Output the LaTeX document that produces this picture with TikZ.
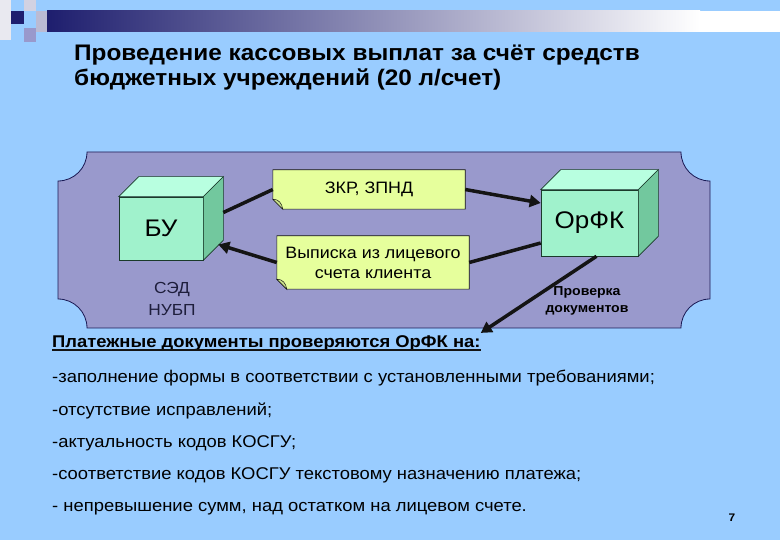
\documentclass[tikz,border=0pt]{standalone}
\usepackage{fontspec}
\setmainfont[FakeStretch=1.083]{Liberation Sans}
\usetikzlibrary{arrows.meta,backgrounds}
\definecolor{skyback}{HTML}{99CCFF}
\definecolor{navy}{HTML}{1E1E6E}
\definecolor{panelfill}{HTML}{9999CC}
\definecolor{panelline}{HTML}{1A1A55}
\definecolor{cubefront}{HTML}{A0F2CC}
\definecolor{cubetop}{HTML}{B8FFE0}
\definecolor{cubeside}{HTML}{72C89E}
\definecolor{cubeline}{HTML}{1A3A2A}
\definecolor{notefill}{HTML}{E6FF9C}
\definecolor{curlfill}{HTML}{C8E088}
\definecolor{ink}{HTML}{141414}
\definecolor{labelink}{HTML}{1E1E3C}

\begin{document}
\begin{tikzpicture}[
  x=1pt, y=-1pt,
  % Node styles
  cube/.style={
    draw=cubeline,
    fill=cubefront,
    line width=0.6pt,
    minimum height=63pt,
    inner sep=0pt,
    font=\fontsize{24}{28}\selectfont,
  },
  cube top/.style={draw=cubeline, fill=cubetop, line width=0.6pt},
  cube side/.style={draw=cubeline, fill=cubeside, line width=0.6pt},
  note/.style={
    minimum width=192pt,
    inner sep=0pt,
    align=center,
    font=\fontsize{16.5}{20}\selectfont,
  },
  note shape/.style={draw=ink, fill=notefill, line width=0.6pt},
  curl/.style={draw=ink, fill=curlfill, line width=0.5pt},
  listline/.style={
    anchor=base west,
    inner sep=0pt,
    font=\fontsize{17}{20}\selectfont,
  },
  % Edge styles
  link/.style={draw=ink, line width=3.5pt},
  arrowed/.style={-{Triangle[length=11pt,width=12pt]}},
]

  % Slide background, header strip and the plaque panel
  \begin{scope}[on background layer]
    \fill[skyback] (0,0) rectangle (780,540);
    \fill[white!90!navy] (0,0) rectangle (11,40);
    \fill[navy] (11,11) rectangle (24,24);
    \fill[white!80!navy] (24,0) rectangle (36,11);
    \fill[white!70!navy] (36,11) rectangle (47,32);
    \fill[panelfill] (24,28) rectangle (36,42);
    \shade[left color=navy, right color=white] (47,11) rectangle (700,32);
    \fill[white] (700,11) rectangle (780,32);
    \filldraw[fill=panelfill, draw=panelline, line width=0.8pt]
      (87,152) -- (681,152) arc[start angle=180, end angle=90, radius=29]
      -- (710,299) arc[start angle=270, end angle=180, radius=29]
      -- (87,328) arc[start angle=360, end angle=270, radius=29]
      -- (58,181) arc[start angle=90, end angle=0, radius=29] -- cycle;
  \end{scope}

  % Title
  \node[anchor=base west, inner sep=0pt, font=\bfseries\fontsize{22.5}{26}\selectfont]
    (title1) at (74,61) {Проведение кассовых выплат за счёт средств};
  \node[anchor=base west, inner sep=0pt, font=\bfseries\fontsize{22.5}{26}\selectfont]
    (title2) at (74,86) {бюджетных учреждений (20 л/счет)};

  % Cubes
  \node[cube, minimum width=84pt] (bu) at (161,228.5) {БУ};
  \node[cube, minimum width=97pt, minimum height=66pt] (orfk) at (589.5,223) {ОрФК};
  \foreach \n in {bu, orfk} {
    \filldraw[cube top] (\n.north west) -- ++(20,-20)
      -- ([shift={(20pt,20pt)}]\n.north east) -- (\n.north east) -- cycle;
    \filldraw[cube side] (\n.north east) -- ++(20,-20)
      -- ([shift={(20pt,20pt)}]\n.south east) -- (\n.south east) -- cycle;
  }

  % Notes
  \node[note, minimum height=39pt] (zkr) at (369,189.5) {ЗКР, ЗПНД};
  \node[note, minimum height=53pt] (vyp) at (373,262.5) {Выписка из лицевого\\счета клиента};
  \begin{scope}[on background layer]
    \foreach \n in {zkr, vyp} {
      \filldraw[note shape] (\n.north west) -- (\n.north east) -- (\n.south east)
        -- ([xshift=10pt]\n.south west) -- ([yshift=10pt]\n.south west) -- cycle;
      \filldraw[curl] ([yshift=10pt]\n.south west) .. controls +(6,0) and +(-1,-6)
        .. ([xshift=10pt]\n.south west) -- cycle;
    }
  \end{scope}

  % Labels
  \node[align=center, text=labelink, font=\fontsize{16}{22}\selectfont] (sed) at (172,299) {СЭД\\НУБП};
  \node[align=center, font=\bfseries\fontsize{13}{17}\selectfont] (check) at (587,301) {Проверка\\документов};

  % Checks list
  \node[listline, font=\bfseries\fontsize{17}{20}\selectfont] (head) at (52,348)
    {Платежные документы проверяются ОрФК на:};
  \draw[ink, line width=1.2pt] ([yshift=-2pt]head.base west) -- ([yshift=-2pt]head.base east);
  \foreach \txt [count=\i] in {
    {-заполнение формы в соответствии с установленными требованиями;},
    {-отсутствие исправлений;},
    {-актуальность кодов КОСГУ;},
    {-соответствие кодов КОСГУ текстовому назначению платежа;},
    {- непревышение сумм, над остатком на лицевом счете.}} {
    \node[listline] (line-\i) at (52,383+32.2*\i-32.2) {\txt};
  }
  \node[anchor=base, font=\bfseries\fontsize{11}{13}\selectfont] (page) at (732,521) {7};

  % Edges
  \draw[link] ([shift={(20pt,16pt)}]bu.east) -- (zkr.west);
  \draw[link, arrowed] (zkr.east) -- ([yshift=20pt]orfk.west);
  \draw[link] ([yshift=-20pt]orfk.west) -- (vyp.east);
  \draw[link, arrowed] (vyp.west) -- ([shift={(15pt,-16pt)}]bu.east);
  \draw[link, arrowed] ([xshift=7pt]orfk.south) -- ([yshift=3pt]head.north east);

\end{tikzpicture}
\end{document}
